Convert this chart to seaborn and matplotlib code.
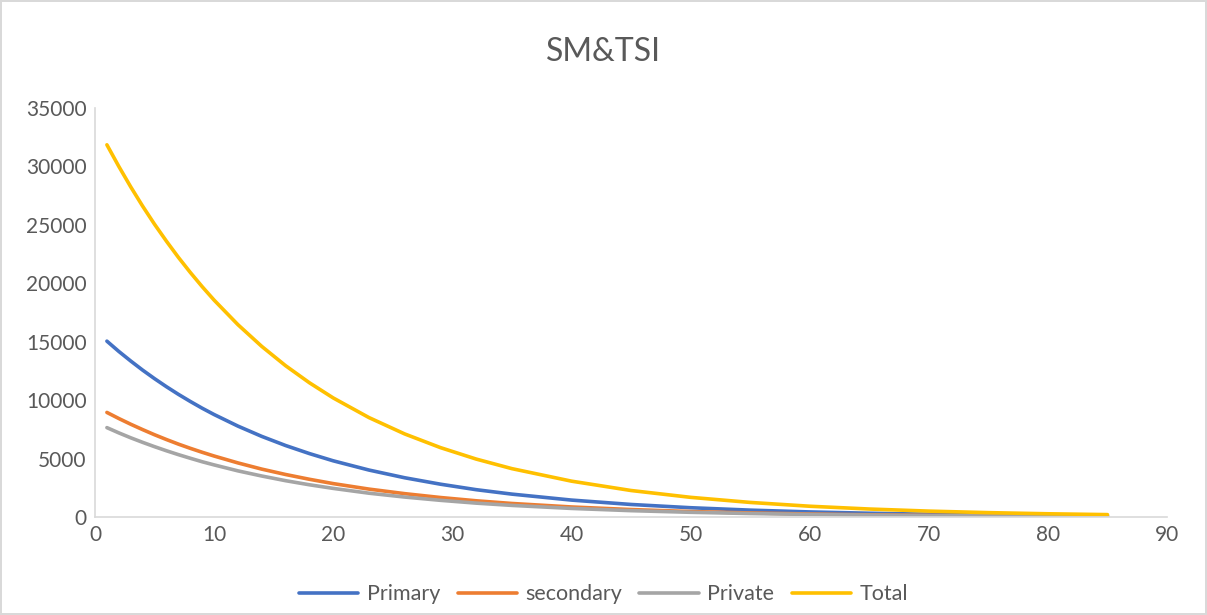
import matplotlib
matplotlib.use("Agg")
import matplotlib.pyplot as plt
import seaborn as sns
import pandas as pd

# values
x_vals = [1, 2, 3, 4, 5, 6, 7, 8, 9, 10, 12, 14, 16, 18, 20, 23, 26, 29, 32, 35,
          40, 45, 50, 55, 60, 65, 70, 75, 80, 85]
primary = [15050, 14170, 13350, 12570, 11840, 11150, 10500, 9890, 9310, 8770,
           7780, 6900, 6120, 5430, 4810, 4020, 3360, 2810, 2340, 1960,
           1450, 1075, 796, 590, 436, 324, 240, 178, 132, 97]
secondary = [8950, 8430, 7940, 7480, 7040, 6630, 6240, 5880, 5540, 5220,
             4630, 4100, 3640, 3230, 2860, 2390, 2000, 1670, 1390, 1160,
             860, 640, 470, 350, 260, 190, 142, 106, 78, 58]
private = [7650, 7200, 6780, 6390, 6020, 5670, 5340, 5030, 4730, 4460,
           3950, 3510, 3110, 2760, 2450, 2040, 1710, 1430, 1190, 995,
           737, 546, 405, 300, 222, 164, 122, 90, 67, 50]
total = [31850, 30000, 28250, 26600, 25050, 23600, 22220, 20930, 19710, 18560,
         16460, 14600, 12950, 11490, 10190, 8510, 7110, 5940, 4960, 4140,
         3070, 2270, 1685, 1250, 924, 685, 506, 376, 278, 206]

series_names = ["Primary", "secondary", "Private", "Total"]
colors = ["#4472C4", "#ED7D31", "#A5A5A5", "#FFC000"]

frames = []
for name, vals in zip(series_names, [primary, secondary, private, total]):
    frames.append(pd.DataFrame({"x": x_vals, "value": vals, "series": name}))
df = pd.concat(frames, ignore_index=True)

sns.set_style("white")
plt.rcParams["font.family"] = ["Lato", "DejaVu Sans"]

fig = plt.figure(figsize=(12.07, 6.15), dpi=100)
fig.patch.set_edgecolor("#D9D9D9")
fig.patch.set_linewidth(1.5)
ax = fig.add_axes([0.0787, 0.1593, 0.8882, 0.6651])

sns.lineplot(data=df, x="x", y="value", hue="series", palette=colors,
             hue_order=series_names, linewidth=2.6, ax=ax, legend=True)

ax.set_xlim(0, 90)
ax.set_ylim(0, 35000)
ax.set_xticks(range(0, 91, 10))
ax.set_yticks(range(0, 35001, 5000))
ax.set_xlabel("")
ax.set_ylabel("")
ax.tick_params(axis="both", length=0, labelsize=15, labelcolor="#595959")
ax.tick_params(axis="x", pad=6)
ax.tick_params(axis="y", pad=6)
for side in ["top", "right"]:
    ax.spines[side].set_visible(False)
for side in ["left", "bottom"]:
    ax.spines[side].set_color("#D9D9D9")
    ax.spines[side].set_linewidth(1.2)

fig.text(0.5, 0.915, "SM&TSI", ha="center", va="center", fontsize=23, color="#595959")

handles, labels = ax.get_legend_handles_labels()
ax.get_legend().remove()
fig.legend(handles, labels, loc="center", bbox_to_anchor=(0.5, 0.034), ncol=4,
           frameon=False, fontsize=15.5, handlelength=2.75, columnspacing=0.8,
           handletextpad=0.4, labelcolor="#595959")

fig.savefig("out.png", dpi=100)
